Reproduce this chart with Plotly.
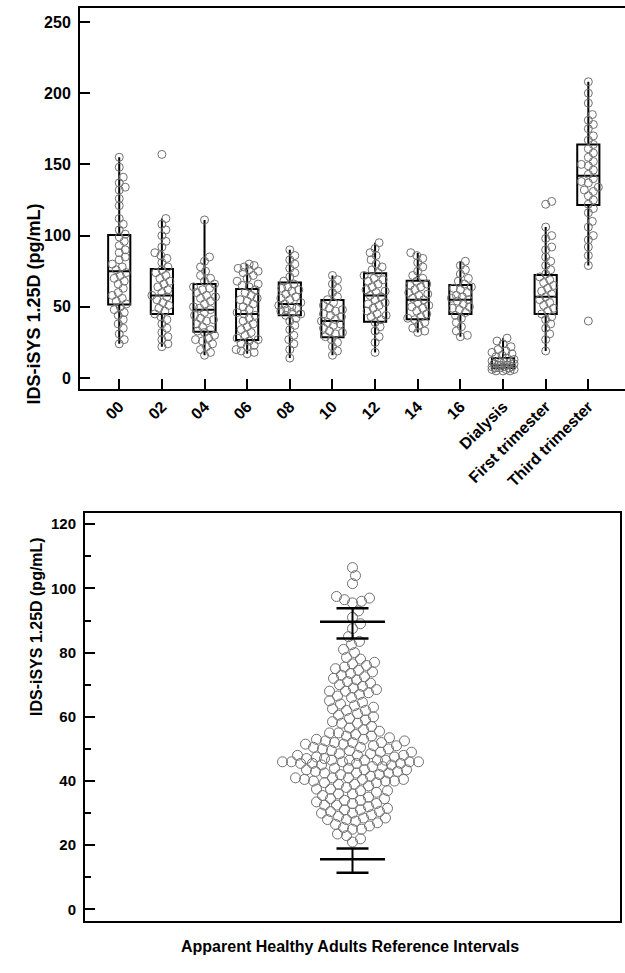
import math
import plotly.graph_objects as go

# ---------------- data ----------------
categories = ["00", "02", "04", "06", "08", "10", "12", "14", "16",
              "Dialysis", "First trimester", "Third trimester"]

g00 = [155, 148, 141, 137, 134, 132, 126, 121, 112, 108, 104, 101, 99, 96, 93, 90, 88, 85, 83, 80,
       78, 76, 74, 72, 70, 68, 66, 63, 60, 58, 56, 54, 52, 50, 48, 46, 44, 41, 38, 35, 31, 27, 24]
g02 = [157, 112, 108, 104, 100, 96, 92, 88, 86, 84, 81, 78, 76, 74, 72, 70, 68, 66, 64, 62, 60, 58,
       57, 55, 53, 51, 49, 47, 45, 43, 41, 38, 35, 32, 29, 27, 24, 22]
g04 = [111, 85, 82, 78, 75, 72, 70, 68, 66, 64, 62, 60, 58, 56, 54, 52, 50, 48, 46, 44, 42, 40, 38,
       36, 34, 32, 30, 28, 26, 24, 22, 20, 18, 16, 63, 57, 49, 41, 33, 27]
g06 = [80, 79, 78, 76, 74, 72, 70, 68, 66, 64, 62, 60, 58, 56, 54, 52, 50, 48, 46, 45, 44, 42, 40,
       38, 36, 34, 32, 30, 28, 26, 24, 22, 20, 18, 17, 19, 23, 27, 55, 65, 75, 77]
g08 = [90, 86, 83, 80, 77, 74, 71, 68, 66, 64, 62, 61, 59, 57, 55, 53, 52, 51, 49, 48, 46, 45, 44,
       42, 40, 37, 34, 30, 27, 24, 20, 14, 63, 56, 50, 47]
g10 = [72, 69, 66, 63, 60, 57, 55, 53, 51, 49, 47, 45, 43, 41, 40, 39, 37, 35, 33, 31, 29, 27, 25,
       22, 19, 16, 44, 38, 32, 48]
g12 = [95, 91, 88, 86, 83, 80, 78, 76, 74, 72, 70, 68, 66, 64, 62, 60, 58, 57, 55, 53, 51, 49, 47,
       45, 43, 41, 39, 36, 33, 29, 25, 18, 69, 61, 52, 44]
g14 = [88, 86, 84, 81, 78, 75, 72, 70, 68, 66, 64, 62, 60, 58, 56, 55, 53, 51, 49, 47, 45, 43, 41,
       39, 37, 35, 33, 32, 65, 59, 50, 42]
g16 = [82, 79, 76, 73, 70, 68, 66, 64, 62, 60, 58, 57, 56, 54, 52, 50, 48, 46, 44, 42, 39, 36, 33,
       30, 29, 63, 55, 49]
g_dial = [28, 26, 24, 22, 20, 19, 18, 17, 16, 15, 14, 13, 12, 11, 11, 10, 10, 9, 9, 8, 8, 8, 7, 7,
          7, 6, 6, 6, 5, 5, 5, 12, 9]
g_first = [124, 122, 106, 100, 98, 92, 90, 85, 82, 79, 76, 73, 71, 69, 67, 65, 63, 61, 59, 57, 55,
           53, 51, 49, 47, 45, 43, 41, 38, 35, 31, 27, 19]
g_third = [208, 200, 193, 185, 181, 178, 175, 170, 167, 164, 161, 158, 155, 152, 149, 146, 143, 140,
           137, 134, 131, 128, 125, 122, 119, 116, 110, 106, 100, 97, 92, 86, 79, 40, 150, 138, 132]
group_values = [g00, g02, g04, g06, g08, g10, g12, g14, g16, g_dial, g_first, g_third]

box_q1 = [51.7, 45, 32.5, 26.7, 44, 28.7, 39.5, 41.2, 45, 7, 45, 121.5]
box_median = [75, 58, 48, 45, 52, 40, 58, 55, 55, 9, 57, 142]
box_q3 = [100.4, 76.5, 66, 62.5, 67, 54.8, 73.6, 68.3, 65.3, 14, 72.3, 164]
box_low = [24, 22, 16, 17, 14, 16, 18, 32, 29, 5, 19, 79]
box_high = [155, 112, 111, 80, 90, 72, 95, 88, 82, 28, 106, 208]

top_yticks = [0, 50, 100, 150, 200, 250]

adults = [106.5, 104.0, 101.5,
          97.5, 97.0, 96.5, 96.0, 95.5,
          93.0, 91.0, 89.0, 87.5,
          85.0, 83.5, 82.5, 81.0, 80.0,
          78.5, 78.0, 77.0, 76.5, 76.0, 75.5,
          75.0, 74.5, 74.0, 73.5, 73.0, 72.5, 72.0, 71.5,
          71.0, 70.5, 70.0, 69.5, 69.0, 68.5, 68.0, 68.0, 67.5, 67.0, 66.5, 66.0,
          65.0, 64.5, 64.0, 63.5, 63.0, 62.5, 62.0, 62.0,
          61.0, 60.5, 60.0, 59.5, 59.0, 58.5, 58.0, 58.0,
          57.0, 56.5, 56.0, 55.5, 55.0, 55.0, 54.5, 54.0, 54.0,
          53.5, 53.0, 53.0, 52.5, 52.5, 52.0, 52.0, 52.0, 51.5, 51.5, 51.0, 51.0, 50.5, 50.5,
          50.0, 50.0, 49.5, 49.5, 49.0, 49.0, 48.5, 48.5, 48.0, 48.0, 48.0, 47.5, 47.5, 47.0,
          46.5, 46.0, 46.0, 46.5, 46.5, 46.0, 45.5, 45.5, 45.0, 45.0, 46.5, 46.0, 45.5, 47.0,
          46.5, 46.0, 45.5,
          44.5, 44.0, 44.0, 43.5, 43.5, 43.0, 43.0, 42.5, 42.5, 42.0, 44.5, 43.5, 42.5, 42.0,
          41.5, 41.0, 41.0, 40.5, 40.5, 40.0, 40.0, 39.5, 39.5, 39.0, 41.0, 40.5, 40.0, 39.0,
          38.5, 38.0, 37.5, 37.5, 37.0, 37.0, 36.5, 36.0, 36.0, 35.5,
          35.0, 34.5, 34.5, 34.0, 34.0, 33.5, 33.0, 33.0, 32.5, 32.5,
          32.0, 31.5, 31.0, 31.0, 30.5, 30.5, 30.0, 30.0, 29.5,
          29.0, 28.5, 28.5, 28.0, 28.0, 27.5, 27.0,
          26.5, 26.0, 25.5, 25.0, 25.0,
          23.5, 23.0, 22.0, 21.0]

ref_limit = [15.6, 89.6]     # reference interval limits
ci_low = [11.4, 84.4]        # CI lower
ci_high = [19.0, 93.8]       # CI upper
bottom_yticks = [0, 20, 40, 60, 80, 100, 120]

# ---------------- geometry ----------------
W, H = 625, 973
TOP = dict(l=80, r=625, t=8, b=389, xr=(-0.92, 11.86), yr=(-7.7, 259.8))
BOT = dict(l=85, r=620, t=513, b=921, xr=(-1.0, 1.0), yr=(-3.6, 123.5))


def ppu(g):
    return ((g["r"] - g["l"]) / (g["xr"][1] - g["xr"][0]),
            (g["b"] - g["t"]) / (g["yr"][1] - g["yr"][0]))


def swarm(vals, py_per_unit, dmin, cap):
    order = sorted(range(len(vals)), key=lambda i: vals[i])
    placed = []
    out = [0.0] * len(vals)
    for i in order:
        y = vals[i] * py_per_unit
        near = [(px, pyy) for px, pyy in placed if abs(y - pyy) < dmin]
        best = None
        bestscore = -1
        bestoff = 0
        for k in range(0, 2 * cap + 1):
            off = ((k + 1) // 2) * (1 if k % 2 else -1)
            md = min((math.hypot(off - px, y - pyy) for px, pyy in near), default=1e9)
            if md >= dmin:
                best = off
                break
            if md > bestscore:
                bestscore = md
                bestoff = off
        if best is None:
            best = bestoff
        placed.append((best, y))
        out[i] = best
    return out


fig = go.Figure()

tx_ppu, ty_ppu = ppu(TOP)
pt_color = "#707070"

for i, vals in enumerate(group_values):
    fig.add_trace(go.Box(
        x=[i], q1=[box_q1[i]], median=[box_median[i]], q3=[box_q3[i]],
        lowerfence=[box_low[i]], upperfence=[box_high[i]],
        width=0.52, whiskerwidth=0, boxpoints=False,
        fillcolor="rgba(0,0,0,0)", line=dict(color="black", width=2),
        xaxis="x", yaxis="y", showlegend=False, hoverinfo="skip"))

for i, vals in enumerate(group_values):
    offs = swarm(vals, ty_ppu, 6.5, 11)
    fig.add_trace(go.Scatter(
        x=[i + o / tx_ppu for o in offs], y=vals, mode="markers",
        marker=dict(symbol="circle-open", size=8, color=pt_color, line=dict(width=1)),
        xaxis="x", yaxis="y", showlegend=False))

bx_ppu, by_ppu = ppu(BOT)
offs = swarm(adults, by_ppu, 8.5, 70)
fig.add_trace(go.Scatter(
    x=[o / bx_ppu for o in offs], y=adults, mode="markers",
    marker=dict(symbol="circle-open", size=10, color=pt_color, line=dict(width=1)),
    xaxis="x2", yaxis="y2", showlegend=False))

long_hw = 32.5 / bx_ppu
short_hw = 16.0 / bx_ppu
for lim, lo, hi in zip(ref_limit, ci_low, ci_high):
    fig.add_trace(go.Scatter(x=[0, 0], y=[lo, hi], mode="lines",
                             line=dict(color="black", width=2), xaxis="x2", yaxis="y2",
                             showlegend=False))
    fig.add_trace(go.Scatter(x=[-long_hw, long_hw], y=[lim, lim], mode="lines",
                             line=dict(color="black", width=2.5), xaxis="x2", yaxis="y2",
                             showlegend=False))
    for v in (lo, hi):
        fig.add_trace(go.Scatter(x=[-short_hw, short_hw], y=[v, v], mode="lines",
                                 line=dict(color="black", width=2.5), xaxis="x2", yaxis="y2",
                                 showlegend=False))


def fx(px):
    return px / W


def fy(py):
    return 1 - py / H


FONT = "Liberation Sans, Arial, sans-serif"

fig.update_layout(
    width=W, height=H, margin=dict(l=0, r=0, t=0, b=0),
    paper_bgcolor="white", plot_bgcolor="white", showlegend=False,
    font=dict(family=FONT, color="black"),
    xaxis=dict(domain=[fx(TOP["l"]), fx(TOP["r"])], range=list(TOP["xr"]),
               tickmode="array", tickvals=list(range(len(categories))), ticktext=categories,
               tickangle=-45, ticks="inside", ticklen=10, tickwidth=2, tickcolor="black",
               showline=True, linewidth=2, linecolor="black", mirror=True,
               showgrid=False, zeroline=False, automargin=False,
               tickfont=dict(size=16, family=FONT, weight="bold", color="black")),
    yaxis=dict(domain=[fy(TOP["b"]), fy(TOP["t"])], range=list(TOP["yr"]),
               tickmode="array", tickvals=top_yticks,
               ticks="inside", ticklen=10, tickwidth=2, tickcolor="black",
               showline=True, linewidth=2, linecolor="black",
               showgrid=False, zeroline=False, automargin=False, ticklabelstandoff=4,
               tickfont=dict(size=16, family=FONT, weight="bold", color="black")),
    xaxis2=dict(domain=[fx(BOT["l"]), fx(BOT["r"])], range=list(BOT["xr"]),
                showticklabels=False, ticks="", showline=True, linewidth=2,
                linecolor="black", mirror=True, showgrid=False, zeroline=False,
                automargin=False, anchor="y2"),
    yaxis2=dict(domain=[fy(BOT["b"]), fy(BOT["t"])], range=list(BOT["yr"]),
                tickmode="array", tickvals=bottom_yticks,
                ticks="inside", ticklen=10, tickwidth=2, tickcolor="black",
                minor=dict(dtick=10, tick0=0, ticks="inside", ticklen=6, tickwidth=1.5,
                           tickcolor="black"),
                showline=True, linewidth=2, linecolor="black", mirror=True,
                showgrid=False, zeroline=False, automargin=False, anchor="x2",
                ticklabelstandoff=4,
                tickfont=dict(size=15, family=FONT, weight="bold", color="black")),
    annotations=[
        dict(text="IDS-iSYS 1.25D (pg/mL)", textangle=-90, x=fx(21), y=fy(202),
             xref="paper", yref="paper", showarrow=False,
             font=dict(size=18, family=FONT, weight="bold", color="black")),
        dict(text="IDS-iSYS 1.25D (pg/mL)", textangle=-90, x=fx(26), y=fy(718),
             xref="paper", yref="paper", showarrow=False,
             font=dict(size=16, family=FONT, weight="bold", color="black")),
        dict(text="Apparent Healthy Adults Reference Intervals", x=fx(350), y=fy(957),
             xref="paper", yref="paper", showarrow=False,
             font=dict(size=16, family=FONT, weight="bold", color="black")),
    ],
)

fig.write_html("out.html")
